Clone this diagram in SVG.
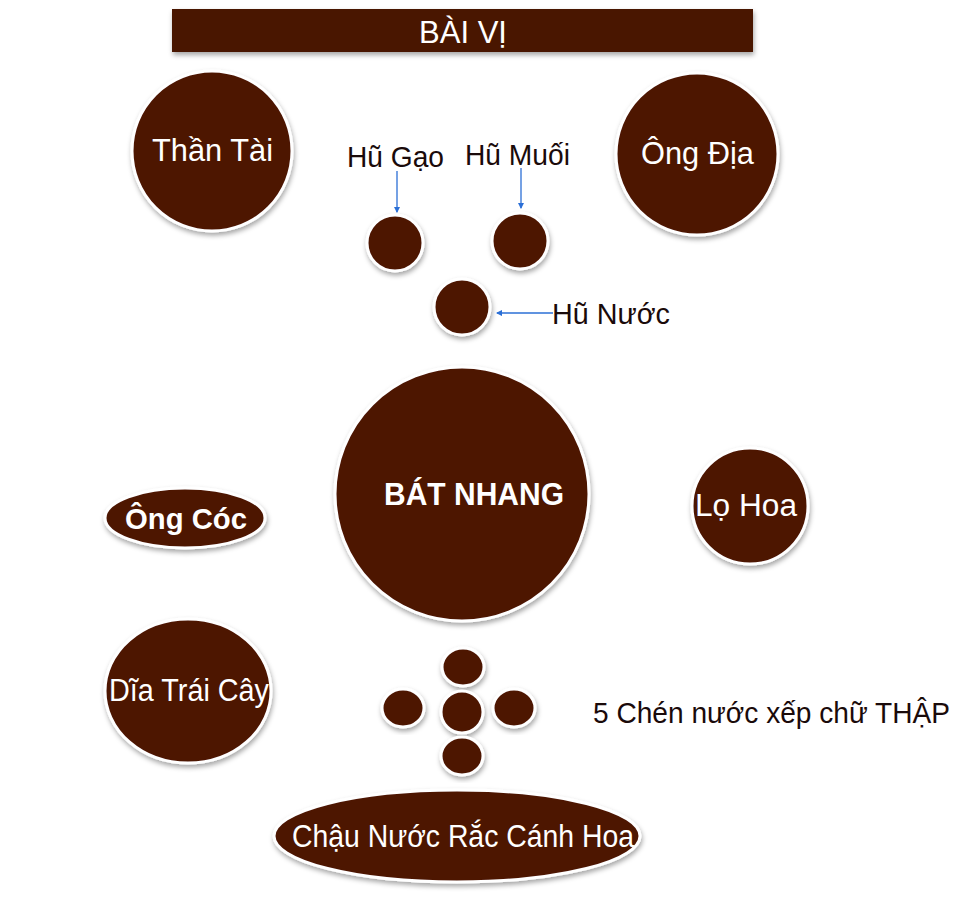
<svg xmlns="http://www.w3.org/2000/svg" width="960" height="899" viewBox="0 0 960 899">
<defs>
<filter id="sh" x="-20%" y="-20%" width="140%" height="140%">
<feDropShadow dx="1" dy="3" stdDeviation="2.5" flood-color="#000" flood-opacity="0.35"/>
</filter>
<marker id="ah" viewBox="0 0 6 6" refX="5" refY="3" markerWidth="5" markerHeight="5" orient="auto">
<path d="M0,0 L6,3 L0,6 z" fill="#2b6fd6"/>
</marker>
<style>
.n{fill:#4d1606;stroke:#ffffff;stroke-width:3;filter:url(#sh)}
.w{fill:#ffffff;font-family:"Liberation Sans",Arial,sans-serif;font-size:31px;text-anchor:middle}
.d{fill:#1a0a0a;font-family:"Liberation Sans",Arial,sans-serif;font-size:29px}
.c{stroke:#2b6fd6;stroke-width:1.3;fill:none;marker-end:url(#ah)}
</style>
</defs>
<rect width="960" height="899" fill="#ffffff"/>
<g id="bai-vi">
<rect x="172" y="9" width="581" height="43" fill="#4a1500" filter="url(#sh)"/>
<text class="w" x="463" y="43" textLength="88" lengthAdjust="spacingAndGlyphs">BÀI VỊ</text>
</g>
<g id="than-tai">
<circle class="n" cx="212" cy="151" r="80"/>
<text class="w" x="212.5" y="161" textLength="121" lengthAdjust="spacingAndGlyphs">Thần Tài</text>
</g>
<g id="ong-dia">
<circle class="n" cx="697" cy="154" r="81"/>
<text class="w" x="697.5" y="164" textLength="113" lengthAdjust="spacingAndGlyphs">Ông Địa</text>
</g>
<g id="hu-gao">
<circle class="n" cx="395" cy="243" r="28"/>
<text class="d" x="395.5" y="167" text-anchor="middle" textLength="97" lengthAdjust="spacingAndGlyphs">Hũ Gạo</text>
</g>
<g id="hu-muoi">
<circle class="n" cx="520" cy="241" r="28"/>
<text class="d" x="517.5" y="165" text-anchor="middle" textLength="105" lengthAdjust="spacingAndGlyphs">Hũ Muối</text>
</g>
<g id="hu-nuoc">
<circle class="n" cx="462" cy="307" r="28"/>
<text class="d" x="552" y="324" textLength="118" lengthAdjust="spacingAndGlyphs">Hũ Nước</text>
</g>
<g id="bat-nhang">
<circle class="n" cx="462" cy="494" r="127"/>
<text class="w" x="474" y="505" style="font-weight:bold" textLength="180" lengthAdjust="spacingAndGlyphs">BÁT NHANG</text>
</g>
<g id="lo-hoa">
<circle class="n" cx="750" cy="506" r="58"/>
<text class="w" x="746" y="516" textLength="102" lengthAdjust="spacingAndGlyphs">Lọ Hoa</text>
</g>
<g id="ong-coc">
<ellipse class="n" cx="185" cy="518" rx="80" ry="30"/>
<text class="w" x="186" y="529" style="font-weight:bold;font-size:30px" textLength="122" lengthAdjust="spacingAndGlyphs">Ông Cóc</text>
</g>
<g id="dia-trai-cay">
<ellipse class="n" cx="188" cy="691" rx="83" ry="72"/>
<text class="w" x="189" y="701" textLength="160" lengthAdjust="spacingAndGlyphs">Dĩa Trái Cây</text>
</g>
<g id="chen-nuoc">
<ellipse class="n" cx="463" cy="667" rx="21" ry="19"/>
<ellipse class="n" cx="403" cy="708" rx="21" ry="19"/>
<ellipse class="n" cx="462" cy="712" rx="21" ry="21"/>
<ellipse class="n" cx="514" cy="708" rx="21" ry="19"/>
<ellipse class="n" cx="462" cy="756" rx="21" ry="19"/>
<text class="d" x="593" y="723" textLength="357" lengthAdjust="spacingAndGlyphs">5 Chén nước xếp chữ THẬP</text>
</g>
<g id="chau-nuoc">
<ellipse class="n" cx="457" cy="836" rx="183" ry="46"/>
<text class="w" x="463" y="847" textLength="342" lengthAdjust="spacingAndGlyphs">Chậu Nước Rắc Cánh Hoa</text>
</g>
<g id="connectors">
<line class="c" x1="397" y1="171" x2="397" y2="212"/>
<line class="c" x1="521" y1="168" x2="521" y2="208"/>
<line class="c" x1="553" y1="313" x2="497" y2="313"/>
</g>
</svg>
